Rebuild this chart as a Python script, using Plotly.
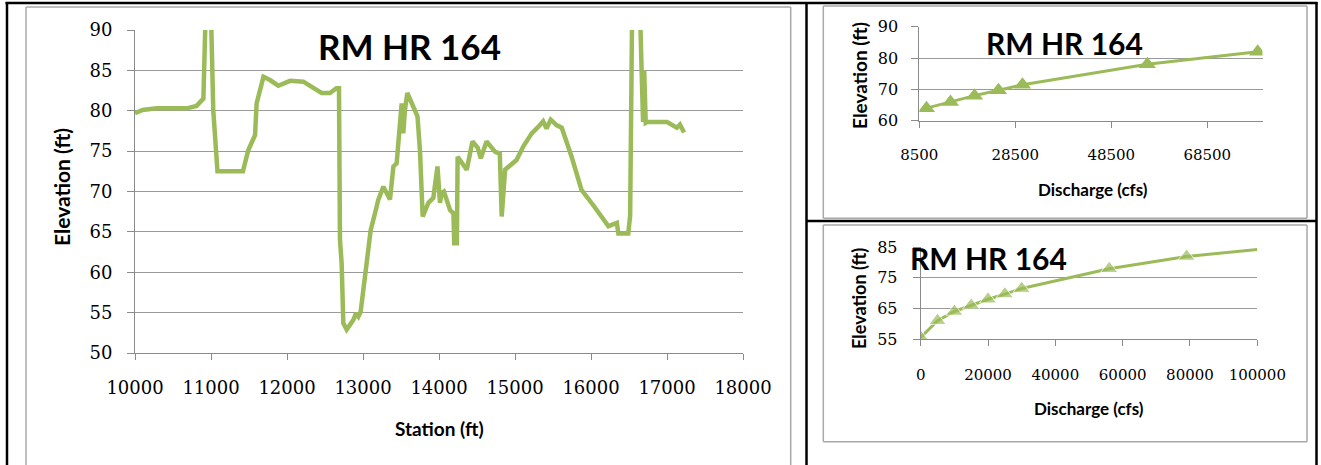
import plotly.graph_objects as go

W, H = 1321, 465

# ---------------- data ----------------
station_ft = [10000, 10100, 10285, 10680, 10810, 10900, 10940, 10990, 11030, 11060, 11085,
              11420, 11490, 11580, 11600, 11690, 11776, 11885, 12040, 12215, 12325, 12455,
              12565, 12650, 12684, 12697, 12719, 12741, 12785, 12873, 12908, 12939, 12969,
              13026, 13070, 13101, 13158, 13202, 13268, 13320, 13355, 13400, 13443, 13465,
              13509, 13530, 13552, 13583, 13660, 13717, 13750, 13785, 13860, 13925, 13950,
              13980, 14013, 14035, 14065, 14100, 14145, 14190, 14200, 14235, 14245, 14365,
              14440, 14510, 14550, 14625, 14740, 14800, 14825, 14870, 15020, 15110, 15220,
              15305, 15370, 15415, 15470, 15550, 15615, 15745, 15875, 16030, 16230, 16340,
              16360, 16490, 16515, 16545, 16635, 16665, 16685, 16700, 16720, 16740, 17000,
              17130, 17170, 17225]
elevation_ft = [79.7, 80.1, 80.3, 80.3, 80.6, 81.5, 96.0, 96.0, 80.0, 75.5, 72.5,
                72.5, 75.1, 77.0, 80.9, 84.2, 83.8, 83.1, 83.7, 83.6, 82.9, 82.2,
                82.2, 82.8, 82.8, 64.0, 61.1, 53.7, 52.9, 54.1, 54.9, 54.5, 55.1,
                59.5, 62.2, 65.2, 67.3, 69.0, 70.6, 69.8, 69.0, 73.1, 73.5, 76.0,
                80.9, 77.2, 80.1, 82.2, 80.5, 79.3, 75.0, 66.9, 68.6, 69.2, 71.0,
                73.1, 68.6, 69.8, 70.0, 69.0, 67.7, 67.3, 63.6, 63.6, 74.3, 72.7,
                76.2, 75.4, 74.1, 76.2, 74.9, 74.7, 66.9, 72.7, 73.9, 75.6, 77.2,
                78.0, 78.7, 77.8, 78.9, 78.2, 77.9, 74.3, 70.2, 68.3, 65.7, 66.1,
                64.8, 64.8, 67.0, 96.0, 96.0, 85.3, 78.6, 85.0, 78.5, 78.6, 78.6,
                77.9, 78.3, 77.3]

discharge_a_cfs = [10000, 15000, 20000, 25000, 30000, 56000, 79000]
elev_a_ft = [64.0, 66.0, 68.0, 69.7, 71.5, 78.0, 82.0]

discharge_b_cfs = [0, 5000, 10000, 15000, 20000, 25000, 30000, 56000, 79000, 100000]
elev_b_ft = [55.5, 61.0, 64.0, 66.0, 68.0, 69.7, 71.5, 78.0, 82.0, 84.3]

title_text = "RM HR 164"
GREEN = "#9BBB59"
GRID = "#9a9a9a"
AXIS = "#8a8a8a"
TICKFONT = "DejaVu Serif"
LABFONT = "Lato"


def fx(px):
    return px / W


def fy(py):
    return 1 - py / H


fig = go.Figure()

fig.add_trace(go.Scatter(x=station_ft, y=elevation_ft, mode="lines",
                         line=dict(color=GREEN, width=4.5), xaxis="x", yaxis="y",
                         showlegend=False, hoverinfo="skip"))
fig.add_trace(go.Scatter(x=discharge_a_cfs, y=elev_a_ft, mode="lines+markers",
                         line=dict(color=GREEN, width=3),
                         marker=dict(symbol="triangle-up", size=15, color=GREEN),
                         xaxis="x2", yaxis="y2", showlegend=False, hoverinfo="skip"))
fig.add_trace(go.Scatter(x=discharge_b_cfs, y=elev_b_ft, mode="lines+markers",
                         line=dict(color=GREEN, width=3),
                         marker=dict(symbol="triangle-up",
                                     size=[15] * (len(discharge_b_cfs) - 1) + [0],
                                     color=GREEN),
                         xaxis="x3", yaxis="y3", showlegend=False, hoverinfo="skip"))

common_x = dict(showgrid=False, showline=True, linecolor=AXIS, linewidth=1,
                ticks="outside", tickcolor=AXIS, ticklen=6, zeroline=False,
                automargin=False, fixedrange=True, tickformat="d")
common_y = dict(showgrid=True, gridcolor=GRID, gridwidth=1, showline=True,
                linecolor=AXIS, linewidth=1, ticks="outside", tickcolor=AXIS,
                ticklen=7, zeroline=False, automargin=False, fixedrange=True,
                tickformat="d")

fig.update_layout(
    width=W, height=H,
    margin=dict(l=0, r=0, t=0, b=0),
    paper_bgcolor="white", plot_bgcolor="white",
    xaxis=dict(domain=[fx(135), fx(743)], range=[10000, 18000], dtick=1000,
               tickfont=dict(family=TICKFONT, size=18, color="black"),
               ticklabelstandoff=12, anchor="y", **common_x),
    yaxis=dict(domain=[fy(353), fy(30)], range=[50, 90], dtick=5,
               tickfont=dict(family=TICKFONT, size=18, color="black"),
               ticklabelstandoff=11, anchor="x", **common_y),
    xaxis2=dict(domain=[fx(919.3), fx(1262.5)], range=[8500, 80000],
                tickvals=[8500, 28500, 48500, 68500],
                tickfont=dict(family=TICKFONT, size=15, color="black"),
                ticklabelstandoff=14, anchor="y2", **common_x),
    yaxis2=dict(domain=[fy(120.7), fy(26.7)], range=[60, 90], dtick=10,
                tickfont=dict(family=TICKFONT, size=16, color="black"),
                ticklabelstandoff=10, anchor="x2", **common_y),
    xaxis3=dict(domain=[fx(920.7), fx(1257.3)], range=[0, 100000], dtick=20000,
                tickfont=dict(family=TICKFONT, size=15, color="black"),
                ticklabelstandoff=16, anchor="y3", **common_x),
    yaxis3=dict(domain=[fy(339), fy(247.3)], range=[55, 85], dtick=10, tick0=55,
                tickfont=dict(family=TICKFONT, size=16, color="black"),
                ticklabelstandoff=12, anchor="x3", **common_y),
)

# text annotations
ann = []


def add_text(text, x, y, size, angle=0, bold=True):
    ann.append(dict(text=f"<b>{text}</b>" if bold else text, x=fx(x), y=fy(y),
                    xref="paper", yref="paper", showarrow=False,
                    xanchor="center", yanchor="middle", textangle=angle,
                    font=dict(family=LABFONT, size=size, color="black")))


add_text(title_text, 409.5, 46, 35)
add_text(title_text, 1064, 43, 30)
add_text(title_text, 988, 258, 30)
add_text("Elevation (ft)", 62, 187, 21, angle=-90)
add_text("Station (ft)", 439, 428, 19)
add_text("Elevation (ft)", 859, 76, 19, angle=-90)
add_text("Discharge (cfs)", 1092.5, 189, 17)
add_text("Elevation (ft)", 859, 299, 18, angle=-90)
add_text("Discharge (cfs)", 1089, 408, 17)
fig.update_layout(annotations=ann)

# frames / borders
shapes = []


def line(x0, y0, x1, y1, color, width):
    shapes.append(dict(type="line", xref="paper", yref="paper",
                       x0=fx(x0), y0=fy(y0), x1=fx(x1), y1=fy(y1),
                       line=dict(color=color, width=width)))


BOX = "#a8a8a8"
# left chart box (open at bottom)
line(26, 7, 790.7, 7, BOX, 1.5)
line(26, 7, 26, 470, BOX, 1.5)
line(790.7, 7, 790.7, 470, BOX, 1.5)
# top-right chart box
line(823.3, 6, 1307, 6, BOX, 1.5)
line(823.3, 218.3, 1307, 218.3, BOX, 1.5)
line(823.3, 6, 823.3, 218.3, BOX, 1.5)
line(1307, 6, 1307, 218.3, BOX, 1.5)
# bottom-right chart box
line(823.3, 225, 1307, 225, BOX, 1.5)
line(823.3, 441.7, 1307, 441.7, BOX, 1.5)
line(823.3, 225, 823.3, 441.7, BOX, 1.5)
line(1307, 225, 1307, 441.7, BOX, 1.5)
# black table borders
line(5.5, 3, 1317.5, 3, "black", 2.5)
line(7, 2, 7, 470, "black", 2.5)
line(806.5, 2, 806.5, 470, "black", 2.5)
line(1316.5, 2, 1316.5, 470, "black", 2.5)
line(806.5, 221, 1316.5, 221, "black", 2.5)
fig.update_layout(shapes=shapes)

fig.write_html("out.html")
